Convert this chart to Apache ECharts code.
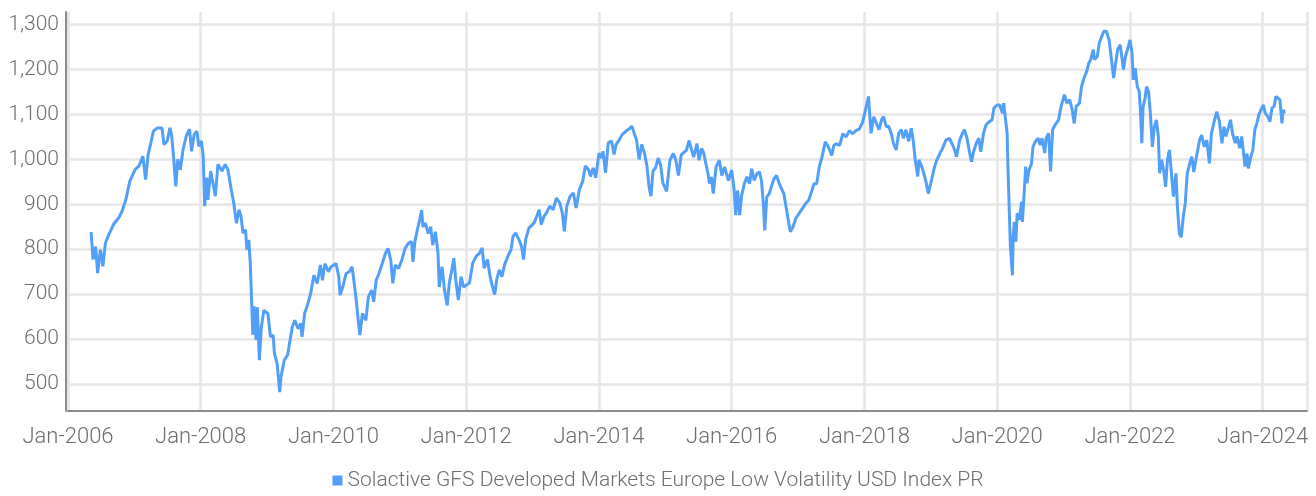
<!DOCTYPE html>
<html>
<head>
<meta charset="utf-8">
<title>Solactive GFS Developed Markets Europe Low Volatility USD Index PR</title>
<script src="https://cdn.jsdelivr.net/npm/echarts@6/dist/echarts.min.js"></script>
<style>
  html, body { margin: 0; padding: 0; background: #ffffff; }
  #chart { width: 1316px; height: 496px; }
</style>
</head>
<body>
<div id="chart"></div>
<script>
// Index level (price return, USD)
const seriesName = 'Solactive GFS Developed Markets Europe Low Volatility USD Index PR';

const dates = [
  '2006-05-08','2006-05-19','2006-06-02','2006-06-13','2006-06-28','2006-07-12','2006-07-26','2006-08-13','2006-09-08','2006-10-07',
  '2006-10-25','2006-11-15','2006-12-07','2007-01-05','2007-01-26','2007-02-17','2007-03-04','2007-03-18','2007-04-02','2007-04-16',
  '2007-05-08','2007-06-02','2007-06-13','2007-07-01','2007-07-16','2007-07-26','2007-08-06','2007-08-17','2007-08-28','2007-09-11',
  '2007-09-26','2007-10-14','2007-11-01','2007-11-12','2007-11-26','2007-12-11','2007-12-22','2008-01-05','2008-01-15','2008-01-23',
  '2008-02-03','2008-02-10','2008-02-25','2008-03-22','2008-04-05','2008-04-27','2008-05-15','2008-05-30','2008-06-17','2008-07-01',
  '2008-07-16','2008-07-30','2008-08-10','2008-08-21','2008-09-04','2008-09-11','2008-09-22','2008-09-30','2008-10-07','2008-10-14',
  '2008-10-21','2008-11-01','2008-11-08','2008-11-19','2008-11-30','2008-12-14','2009-01-05','2009-01-19','2009-02-03','2009-02-10',
  '2009-02-25','2009-03-11','2009-03-18','2009-04-05','2009-04-23',
  '2009-05-01','2009-05-19','2009-06-02','2009-06-20','2009-07-05','2009-07-12','2009-07-26','2009-08-13','2009-08-28','2009-09-15',
  '2009-10-03','2009-10-21','2009-11-01','2009-11-15','2009-12-04','2009-12-18','2010-01-15','2010-01-30','2010-02-06','2010-02-21',
  '2010-03-11','2010-03-29','2010-04-13','2010-04-23','2010-05-08','2010-05-19','2010-05-26','2010-06-09','2010-06-28','2010-07-12',
  '2010-07-30','2010-08-10','2010-08-24','2010-09-08','2010-09-26','2010-10-14','2010-10-28','2010-11-12','2010-11-23','2010-12-07',
  '2010-12-25','2011-01-12','2011-01-30','2011-02-17','2011-03-07','2011-03-14','2011-03-25','2011-04-09','2011-04-20','2011-05-01',
  '2011-05-08','2011-05-22','2011-06-06','2011-06-20','2011-07-01','2011-07-16','2011-07-30','2011-08-06','2011-08-21','2011-09-04',
  '2011-09-19','2011-09-30','2011-10-14','2011-10-25','2011-11-05','2011-11-19','2011-12-04','2011-12-18',
  '2012-01-19','2012-02-06','2012-02-25','2012-03-14','2012-03-29','2012-04-09','2012-04-27','2012-05-12','2012-05-22','2012-06-06',
  '2012-06-17','2012-07-01','2012-07-16','2012-07-30','2012-08-17','2012-09-04','2012-09-15','2012-09-30','2012-10-18','2012-11-01',
  '2012-11-12','2012-11-23','2012-12-11','2013-01-08','2013-01-23','2013-02-06','2013-02-17','2013-03-04','2013-03-18','2013-04-05',
  '2013-04-23','2013-05-12','2013-05-30','2013-06-13','2013-06-24','2013-07-08','2013-07-26','2013-08-13','2013-08-28','2013-09-15',
  '2013-10-03','2013-10-18','2013-11-05','2013-11-15','2013-11-30','2013-12-14','2014-01-01','2014-01-15','2014-01-23','2014-02-06',
  '2014-02-21','2014-03-11','2014-03-25','2014-04-05','2014-04-23','2014-05-08','2014-05-30','2014-06-17','2014-07-01','2014-07-16',
  '2014-07-26','2014-08-10','2014-08-24','2014-09-08','2014-09-22','2014-10-03','2014-10-14','2014-10-25','2014-11-08','2014-11-23',
  '2014-12-07','2014-12-18','2015-01-08',
  '2015-01-26','2015-02-14','2015-02-28','2015-03-14','2015-03-29','2015-04-13','2015-04-27','2015-05-12','2015-05-26','2015-06-06',
  '2015-06-24','2015-07-05','2015-07-19','2015-07-30','2015-08-10','2015-08-24','2015-09-01','2015-09-11','2015-09-22','2015-10-07',
  '2015-10-25','2015-11-08','2015-11-23','2015-12-04','2015-12-14','2016-01-01','2016-01-15','2016-01-23','2016-02-03','2016-02-14',
  '2016-02-25','2016-03-11','2016-03-25','2016-04-09','2016-04-20','2016-05-04','2016-05-19','2016-06-02','2016-06-13','2016-06-24',
  '2016-07-01','2016-07-12','2016-07-26','2016-08-06','2016-08-21','2016-09-04','2016-09-19','2016-09-30','2016-10-14','2016-10-28',
  '2016-11-08','2016-11-19','2016-12-04','2016-12-18','2017-01-05','2017-01-23','2017-02-10','2017-02-28','2017-03-18','2017-03-29',
  '2017-04-13','2017-04-27','2017-05-12','2017-05-30','2017-06-17','2017-07-05','2017-07-16','2017-07-30','2017-08-17','2017-09-04',
  '2017-09-22','2017-10-10','2017-10-28','2017-11-15','2017-12-04','2017-12-22','2018-01-12','2018-01-23',
  '2018-02-06','2018-02-21','2018-03-07','2018-03-22','2018-04-05','2018-04-16','2018-05-01','2018-05-15','2018-05-30','2018-06-09',
  '2018-06-24','2018-07-08','2018-07-23','2018-08-03','2018-08-17','2018-09-01','2018-09-15','2018-09-26','2018-10-07','2018-10-21',
  '2018-10-28','2018-11-12','2018-11-26','2018-12-07','2018-12-18','2019-01-05','2019-01-19','2019-02-03','2019-02-21','2019-03-07',
  '2019-03-25','2019-04-13','2019-05-01','2019-05-12','2019-05-22','2019-06-09','2019-06-24','2019-07-05','2019-07-19','2019-08-03',
  '2019-08-13','2019-08-24','2019-09-08','2019-09-22','2019-10-03','2019-10-18','2019-11-01','2019-11-19','2019-12-04','2019-12-14',
  '2020-01-01','2020-01-15','2020-01-30','2020-02-06','2020-02-17','2020-02-25','2020-02-28','2020-03-07','2020-03-14','2020-03-18',
  '2020-03-25','2020-03-29','2020-04-05','2020-04-13','2020-04-20','2020-05-01','2020-05-15','2020-05-19','2020-05-30','2020-06-06',
  '2020-06-13','2020-06-24','2020-07-08','2020-07-16','2020-07-30','2020-08-13','2020-08-24','2020-09-04','2020-09-19','2020-09-26',
  '2020-10-10','2020-10-21','2020-11-01','2020-11-15','2020-12-04','2020-12-18','2021-01-05','2021-01-19',
  '2021-02-03','2021-02-17','2021-02-28','2021-03-11','2021-03-29','2021-04-09','2021-04-23','2021-05-08','2021-05-19','2021-05-30',
  '2021-06-13','2021-06-20','2021-07-05','2021-07-16','2021-07-26','2021-08-10','2021-08-24','2021-09-08','2021-09-19','2021-10-03',
  '2021-10-14','2021-10-25','2021-11-08','2021-11-19','2021-11-26','2021-12-07','2021-12-18','2022-01-01','2022-01-12','2022-01-19',
  '2022-01-30','2022-02-10','2022-02-21','2022-02-28','2022-03-07','2022-03-14','2022-03-25','2022-04-02','2022-04-13','2022-04-23',
  '2022-05-04','2022-05-15','2022-05-26','2022-06-06','2022-06-13','2022-06-24','2022-07-05','2022-07-16','2022-07-26','2022-08-06',
  '2022-08-17','2022-08-28','2022-09-11','2022-09-19','2022-09-30','2022-10-10','2022-10-21','2022-11-01','2022-11-12','2022-11-26',
  '2022-12-07','2022-12-18','2023-01-05','2023-01-19','2023-01-30','2023-02-14','2023-02-28','2023-03-14','2023-03-25','2023-04-09',
  '2023-04-23','2023-05-08','2023-05-22','2023-06-02','2023-06-13','2023-06-28','2023-07-08','2023-07-19','2023-08-03','2023-08-13',
  '2023-08-28','2023-09-08','2023-09-15','2023-09-26','2023-10-07','2023-10-14','2023-10-28','2023-11-08','2023-11-19','2023-11-30',
  '2023-12-11','2023-12-22','2024-01-05','2024-01-15','2024-01-30','2024-02-10','2024-02-21','2024-03-04','2024-03-14','2024-03-25',
  '2024-04-05','2024-04-16','2024-04-23','2024-05-01'
];

const values = [
  838,777,806,747,799,762,814,832,855,870,
  884,910,951,977,985,1007,955,1011,1037,1063,
  1070,1070,1033,1041,1070,1052,1000,940,1000,977,
  1022,1052,1067,1018,1055,1063,1029,1041,1007,896,
  959,910,974,918,989,974,989,977,933,903,
  858,888,873,836,843,799,821,769,690,610,
  673,598,671,553,627,664,657,605,609,568,
  545,482,516,553,564,
  583,627,642,623,635,605,657,679,701,742,
  724,765,731,768,750,761,768,739,698,716,
  746,750,761,731,679,635,609,657,642,694,
  709,683,731,746,768,791,802,776,724,765,
  757,776,802,813,817,772,817,846,865,887,
  850,858,835,850,809,839,791,716,761,709,
  675,724,754,780,731,687,739,716,
  725,769,784,791,803,758,777,739,721,699,
  732,754,739,765,784,799,829,836,821,806,
  777,821,847,858,873,888,855,873,881,896,
  888,914,903,881,840,896,918,925,892,933,
  951,985,977,962,981,959,1014,1003,1018,970,
  1037,1041,1011,1033,1044,1055,1063,1068,1074,1055,
  1044,1000,1033,1014,985,940,918,974,981,1003,
  985,948,929,
  998,1013,998,964,1009,1016,1020,1042,1020,1005,
  1035,998,1024,1016,1020,968,946,961,924,983,
  998,964,983,979,953,976,931,876,931,876,
  920,946,961,946,979,953,968,972,953,898,
  842,916,924,939,957,964,946,950,924,890,
  864,839,850,868,879,890,901,909,931,946,
  946,983,1005,1039,1027,1009,1031,1035,1031,1057,
  1050,1064,1057,1064,1068,1083,1120,1140,
  1058,1095,1081,1066,1088,1095,1073,1073,1055,1036,
  1021,1058,1066,1047,1066,1040,1069,1043,999,962,
  999,984,965,947,924,954,980,999,1014,1025,
  1043,1047,1032,1021,1006,1043,1058,1066,1047,1014,
  995,1017,1036,1047,1017,1058,1077,1084,1088,1114,
  1121,1121,1103,1125,1129,1058,1002,895,805,783,
  742,828,861,817,880,865,906,861,936,984,
  947,976,991,1028,1040,1047,1032,1047,1014,1047,
  1058,973,1066,1077,1088,1118,1144,1125,
  1133,1110,1080,1118,1125,1162,1181,1196,1214,1222,
  1244,1222,1229,1259,1270,1285,1285,1266,1229,1181,
  1214,1244,1255,1222,1200,1229,1244,1266,1237,1177,
  1203,1162,1151,1103,1036,1118,1136,1162,1151,1103,
  1028,1073,1088,1051,969,999,976,939,999,1021,
  969,917,969,894,834,827,872,902,969,991,
  1006,972,1013,1043,1054,1028,1043,991,1058,1084,
  1106,1084,1036,1073,1051,1073,1088,1058,1036,1051,
  1025,1051,1025,984,1013,980,1006,1021,1066,1080,
  1099,1110,1121,1103,1095,1084,1114,1118,1140,1144,
  1133,1080,1110,1103
];

// Axis ranges and tick labelling
const xRange = ['2006-01-01', '2024-09-01'];
const yRange = [440, 1328];
const monthNames = ['Jan','Feb','Mar','Apr','May','Jun','Jul','Aug','Sep','Oct','Nov','Dec'];

const seriesData = dates.map((d, i) => [d, values[i]]);

const textColor = '#6e6e6e';
const fontFamily = 'Roboto, "Noto Sans", sans-serif';

const chart = echarts.init(document.getElementById('chart'), null, { renderer: 'canvas' });

chart.setOption({
  animation: false,
  backgroundColor: '#ffffff',
  grid: { left: 68, right: 9, top: 12, bottom: 85, containLabel: false },
  legend: {
    bottom: 0,
    left: 'center',
    icon: 'rect',
    itemWidth: 10,
    itemHeight: 10,
    textStyle: { color: textColor, fontSize: 21, fontFamily: fontFamily, fontWeight: 300 },
    data: [seriesName]
  },
  xAxis: {
    type: 'time',
    min: xRange[0],
    max: xRange[1],
    splitNumber: 9,
    axisLine: { show: true, lineStyle: { color: '#8c8c8c', width: 2 } },
    axisTick: { show: false },
    axisLabel: {
      color: textColor,
      fontSize: 22,
      fontFamily: fontFamily,
      fontWeight: 300,
      margin: 15,
      hideOverlap: false,
      formatter: function (v) {
        const d = new Date(v);
        return monthNames[d.getMonth()] + '-' + d.getFullYear();
      }
    },
    splitLine: { show: true, lineStyle: { color: '#e6e6e6', width: 2.5 } }
  },
  yAxis: {
    type: 'value',
    min: yRange[0],
    max: yRange[1],
    splitNumber: 9,
    offset: 2,
    axisLine: { show: true, lineStyle: { color: '#8c8c8c', width: 2 } },
    axisTick: { show: false },
    axisLabel: {
      color: textColor,
      fontSize: 21,
      fontFamily: fontFamily,
      fontWeight: 300,
      margin: 7,
      showMinLabel: false,
      showMaxLabel: false,
      formatter: function (v) {
        return v % 100 === 0 ? v.toLocaleString('en-US') : '';
      }
    },
    splitLine: {
      show: true,
      showMinLine: false,
      showMaxLine: false,
      lineStyle: { color: '#e6e6e6', width: 2.5 }
    }
  },
  series: [{
    name: seriesName,
    type: 'line',
    data: seriesData,
    showSymbol: false,
    symbol: 'none',
    smooth: false,
    lineStyle: { color: '#529ff7', width: 3 },
    itemStyle: { color: '#529ff7' }
  }]
});
</script>
</body>
</html>
